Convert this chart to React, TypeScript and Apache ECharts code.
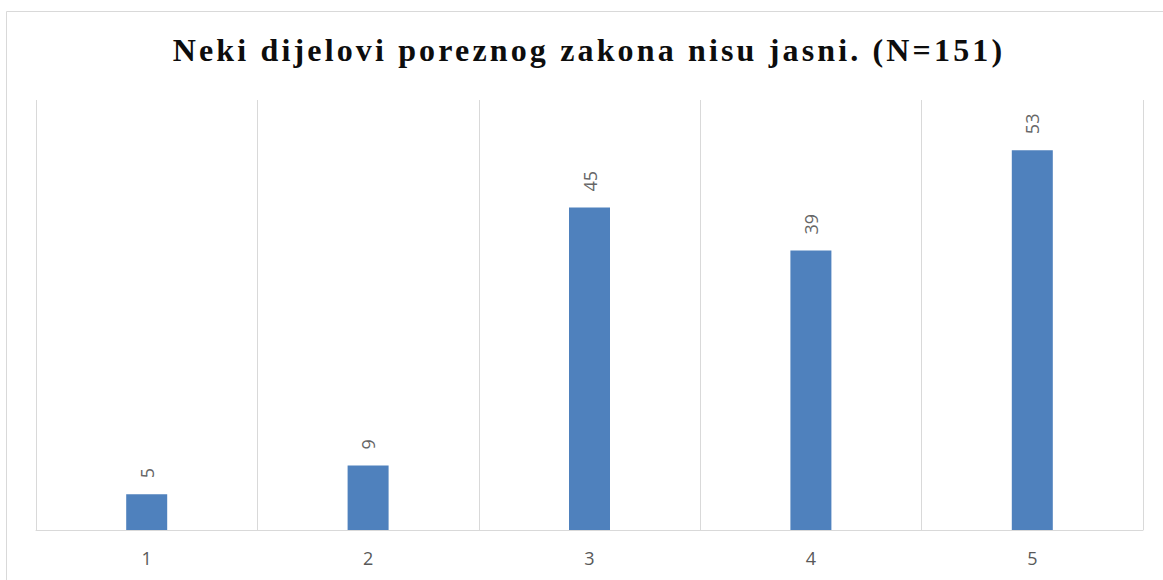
import React, { useEffect, useRef } from "react";
import * as echarts from "echarts";

const categories = ["1", "2", "3", "4", "5"];
const values = [5, 9, 45, 39, 53];
const titleText = "Neki dijelovi poreznog zakona nisu jasni. (N=151)";

export default function App() {
  const ref = useRef<HTMLDivElement>(null);
  useEffect(() => {
    if (!ref.current) return;
    const chart = echarts.init(ref.current, null, { renderer: "svg" });
    chart.setOption({
      animation: false,
      backgroundColor: "#ffffff",
      title: {
        text: titleText,
        left: 584,
        top: 29,
        textAlign: "center",
        textVerticalAlign: "top",
        textStyle: {
          fontFamily: "'Liberation Serif', 'Times New Roman', serif",
          fontWeight: "bold",
          fontSize: 32,
          color: "#0d0d0d",
        },
      },
      graphic: [
        {
          type: "rect",
          shape: { x: 6.5, y: 11.5, width: 1200, height: 620 },
          style: { fill: "none", stroke: "#d9d9d9", lineWidth: 1 },
          silent: true,
        },
      ],
      grid: { left: 36, right: 20, top: 100, bottom: 50 },
      xAxis: {
        type: "category",
        data: categories,
        boundaryGap: true,
        axisLine: { show: true, lineStyle: { color: "#d9d9d9", width: 1 } },
        axisTick: { show: false },
        splitLine: { show: true, lineStyle: { color: "#d9d9d9", width: 1 } },
        axisLabel: {
          color: "#595959",
          fontSize: 18,
          fontFamily: "'Open Sans', 'Liberation Sans', sans-serif",
          margin: 19,
        },
      },
      yAxis: {
        type: "value",
        min: 0,
        max: 60,
        show: false,
        splitLine: { show: false },
      },
      series: [
        {
          type: "bar",
          data: values,
          barWidth: 41,
          itemStyle: { color: "#4f81bd" },
          label: {
            show: true,
            position: "top",
            rotate: 90,
            align: "left",
            verticalAlign: "middle",
            distance: 16,
            color: "#666666",
            fontSize: 18,
            fontFamily: "'Open Sans', 'Liberation Sans', sans-serif",
          },
        },
      ],
    });
    const texts = ref.current.querySelectorAll("text");
    texts.forEach((t) => {
      if (t.textContent === titleText) t.setAttribute("letter-spacing", "3.15");
    });
    return () => chart.dispose();
  }, []);
  return (
    <div
      ref={ref}
      style={{ position: "fixed", left: 0, top: 0, width: 1163, height: 580 }}
    />
  );
}
